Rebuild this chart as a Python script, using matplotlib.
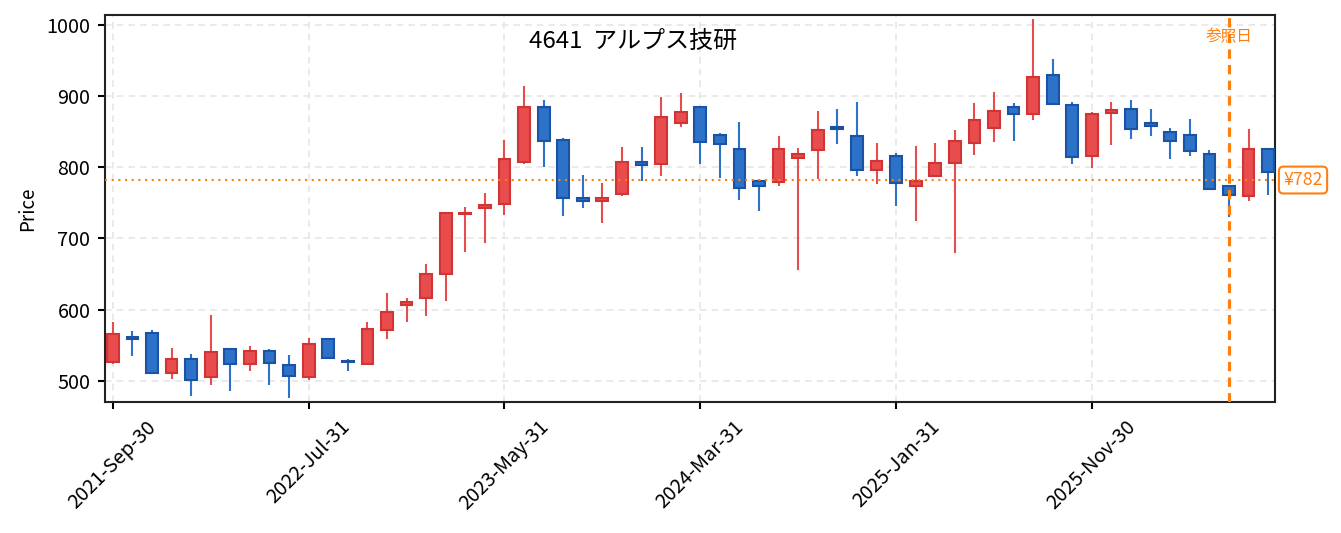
import matplotlib
matplotlib.use("Agg")
import matplotlib.pyplot as plt
import matplotlib.transforms as mtransforms
from matplotlib.patches import Rectangle
import pandas as pd

plt.rcParams['font.family'] = ['Noto Sans CJK JP', 'DejaVu Sans']

title = "4641  アルプス技研"
start_date = "2021-09-30"
ref_index = 57
ref_price = 782

opens = [526, 561, 567, 511, 531, 505, 544, 524, 542, 522,
         505, 558, 528, 523, 571, 606, 616, 650, 734, 743,
         748, 808, 885, 838, 757, 752, 762, 808, 805, 862,
         885, 846, 825, 781, 779, 813, 824, 857, 844, 796,
         816, 774, 787, 806, 834, 855, 885, 875, 929, 888,
         816, 876, 882, 862, 850, 846, 819, 773, 760, 825]
closes = [565, 559, 511, 530, 501, 540, 524, 542, 525, 507,
          552, 532, 526, 572, 596, 611, 650, 735, 736, 747,
          812, 885, 837, 757, 752, 757, 808, 803, 871, 878,
          836, 833, 771, 774, 826, 818, 853, 854, 796, 809,
          778, 780, 806, 837, 866, 879, 875, 927, 889, 814,
          875, 881, 854, 858, 837, 823, 769, 761, 825, 794]
highs = [583, 570, 571, 546, 537, 592, 544, 549, 545, 536,
         560, 560, 530, 582, 623, 616, 664, 736, 744, 764,
         838, 914, 895, 841, 789, 778, 828, 828, 899, 904,
         885, 848, 864, 783, 844, 827, 879, 882, 892, 834,
         820, 830, 834, 852, 890, 906, 891, 1008, 952, 892,
         878, 892, 895, 882, 855, 868, 824, 773, 854, 825]
lows = [524, 535, 511, 502, 479, 494, 486, 513, 494, 475,
        501, 530, 513, 522, 558, 582, 591, 612, 681, 693,
        733, 804, 801, 731, 743, 721, 759, 780, 788, 857,
        805, 785, 754, 738, 774, 655, 784, 833, 787, 776,
        746, 724, 787, 680, 817, 836, 837, 867, 889, 805,
        799, 831, 840, 844, 812, 816, 768, 730, 752, 761]

dates = pd.date_range(start_date, periods=len(opens), freq="ME")
tick_step = 10

up_fill, up_edge = "#e84c4c", "#d03434"
dn_fill, dn_edge = "#2c72c9", "#1c52a3"
orange = "#ff7f0e"

fig = plt.figure(figsize=(1341 / 150, 533 / 150), dpi=150)
ax = fig.add_axes([105 / 1341, (533 - 402) / 533, 1170 / 1341, 387 / 533])

width = 0.6
for i, (o, h, l, c) in enumerate(zip(opens, highs, lows, closes)):
    up = c >= o
    fill = up_fill if up else dn_fill
    edge = up_edge if up else dn_edge
    ax.vlines(i, l, h, color=fill, lw=1.0, zorder=2)
    bottom = min(o, c)
    height = max(abs(c - o), 0.8)
    ax.add_patch(Rectangle((i - width / 2, bottom), width, height,
                           facecolor=fill, edgecolor=edge, lw=1.0, zorder=3))

ax.axhline(ref_price, color=orange, ls=(0, (1, 2.2)), lw=1.0, zorder=4)
ax.axvline(ref_index, color=orange, ls=(0, (3, 2)), lw=1.5, zorder=5)

trans = mtransforms.blended_transform_factory(ax.transData, ax.transAxes)
ax.text(ref_index, 0.967, "参照日", transform=trans, color=orange,
        fontsize=7.5, ha="center", va="top")

ax.annotate(f"¥{ref_price}", xy=(1, ref_price),
            xycoords=mtransforms.blended_transform_factory(ax.transAxes, ax.transData),
            xytext=(4, 0), textcoords="offset points", ha="left", va="center",
            color=orange, fontsize=8.5,
            bbox=dict(boxstyle="round,pad=0.25", fc="white", ec=orange, lw=1.0),
            annotation_clip=False)

ax.text(0.451, 0.931, title, transform=ax.transAxes, ha="center", va="center",
        fontsize=11.5)

ax.set_xlim(-0.4, len(opens) - 0.65)
ax.set_ylim(470, 1014)
ax.set_yticks([500, 600, 700, 800, 900, 1000])
tick_pos = list(range(0, len(opens), tick_step))
ax.set_xticks(tick_pos)
ax.set_xticklabels([dates[i].strftime("%Y-%b-%d") for i in tick_pos],
                   rotation=45)
ax.tick_params(labelsize=9.5, width=1.0, length=3.5)
ax.set_ylabel("Price", fontsize=9)
ax.grid(True, ls=(0, (4, 3)), color="#e6e6e6", lw=0.8, zorder=0)
ax.set_axisbelow(True)
for s in ax.spines.values():
    s.set_linewidth(1.0)
    s.set_color("#222222")

fig.savefig("out.png", dpi=150)
